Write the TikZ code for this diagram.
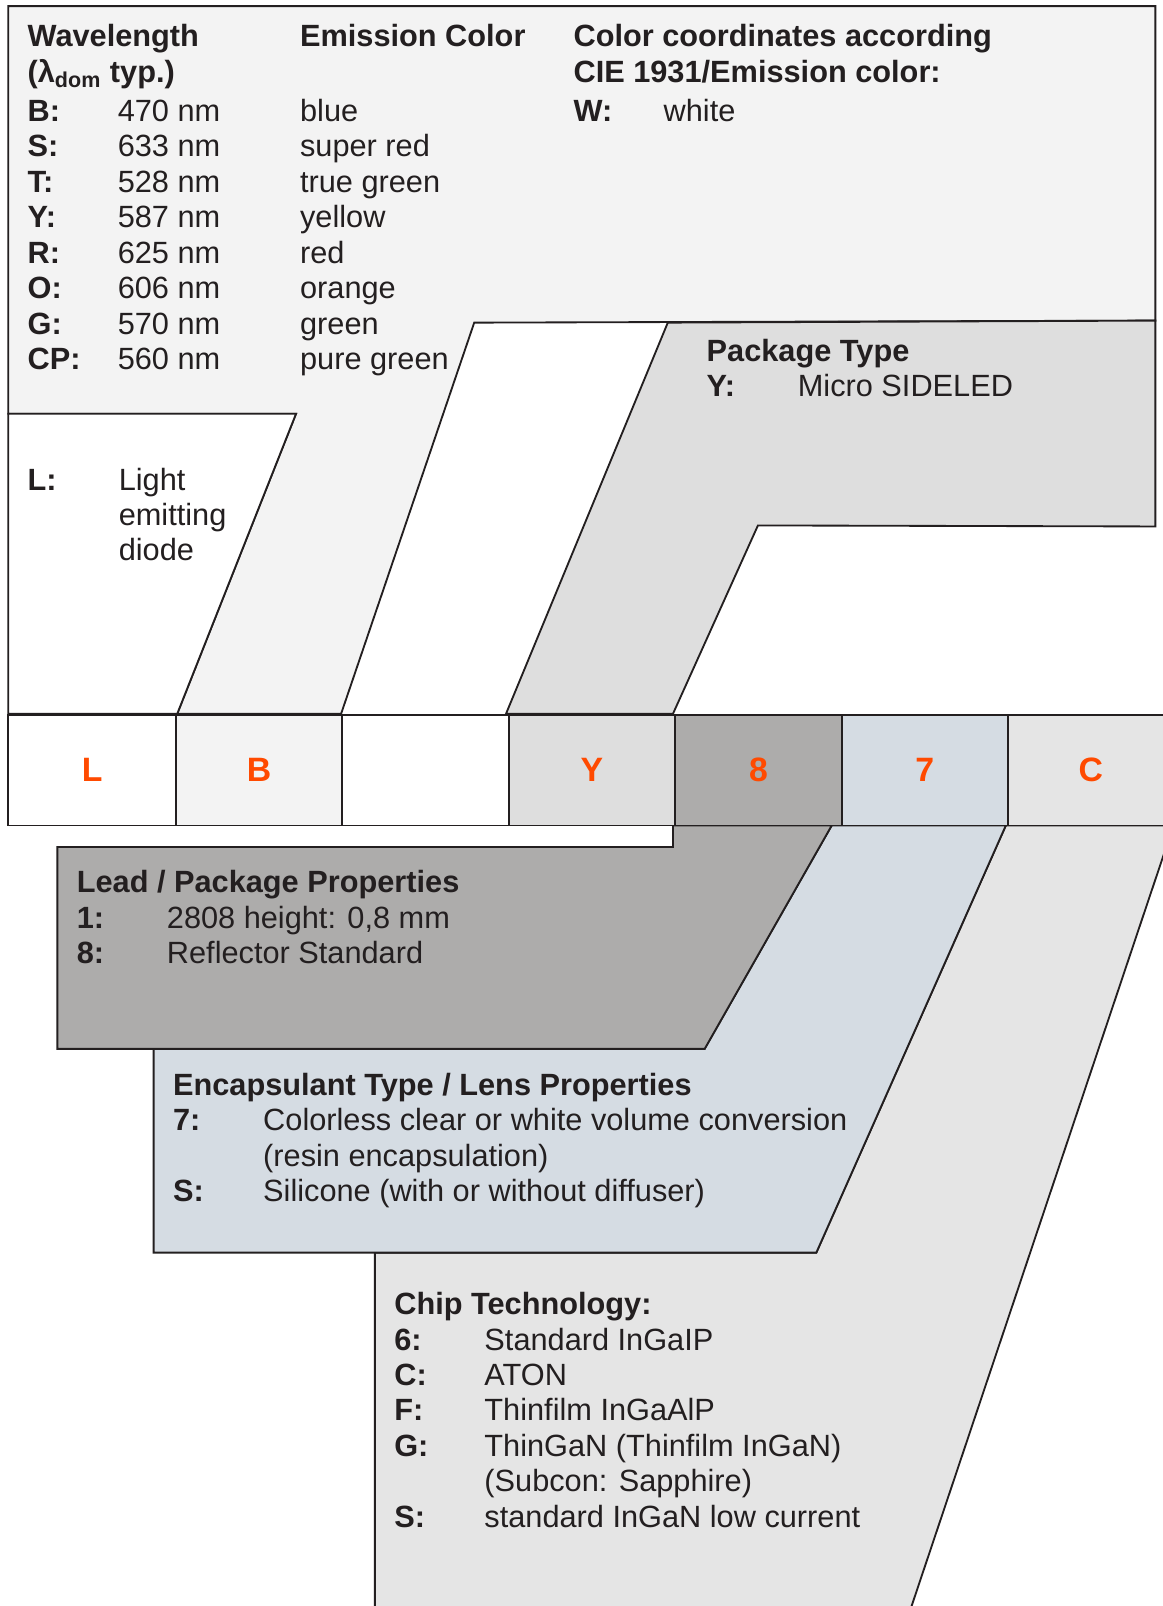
\documentclass[tikz,border=0pt]{standalone}
\usepackage{fontspec}
\setmainfont{Liberation Sans}
\definecolor{linec}{HTML}{231F20}
\definecolor{textc}{HTML}{231F20}
\definecolor{codec}{HTML}{FF4A00}
\definecolor{topc}{HTML}{F3F3F3}
\definecolor{pkgc}{HTML}{DEDEDE}
\definecolor{leadc}{HTML}{ADACAB}
\definecolor{encc}{HTML}{D5DCE3}
\definecolor{chipc}{HTML}{E5E5E5}
\begin{document}
\begin{tikzpicture}[x=0.5pt,y=-0.5pt,
  region/.style={draw=linec,line width=0.9pt,line join=miter},
  txt/.style={anchor=base west,inner sep=0pt,outer sep=0pt,yshift=-0.75pt,text=textc,font=\fontsize{15}{17}\selectfont},
  hd/.style={txt,font=\fontsize{15}{17}\selectfont\bfseries},
  cell/.style={draw=linec,line width=0.9pt,minimum height=54pt,inner sep=0pt,text=codec,font=\fontsize{16.5}{18}\selectfont\bfseries}]
\useasboundingbox (0,0) rectangle (1135,1568);
\fill[white] (0,0) rectangle (1135,1568);

% upper regions
\draw[region,fill=topc] (8,6) -- (1128,6) -- (1128,313) -- (463,315) -- (333,697) -- (173,697) -- (289,404) -- (8,404) -- cycle;
\draw[region,fill=white] (8,404) -- (289,404) -- (173,697) -- (8,697) -- cycle;
\draw[region,fill=pkgc] (652,315) -- (1128,313) -- (1128,514) -- (740,513) -- (657,697) -- (494,697) -- cycle;

% lower regions
\draw[region,fill=chipc] (366,1580) -- (366,1223) -- (797,1223) -- (982,806) -- (1140,806) -- (1140,823) -- (886,1580) -- cycle;
\draw[region,fill=encc] (150,1024) -- (688,1024) -- (812,806) -- (982,806) -- (797,1223) -- (150,1223) -- cycle;
\draw[region,fill=leadc] (56,827) -- (657,827) -- (657,806) -- (812,806) -- (688,1024) -- (56,1024) -- cycle;

% code row
\node[cell,fill=white,minimum width=82pt] (boxL) at (90,752) {L};
\node[cell,fill=topc,minimum width=81pt] (boxB) at (253,752) {B};
\node[cell,fill=white,minimum width=81.5pt] (boxW) at (415.5,752) {};
\node[cell,fill=pkgc,minimum width=81pt] (boxY) at (578,752) {Y};
\node[cell,fill=leadc,minimum width=81.5pt] (box8) at (740.5,752) {8};
\node[cell,fill=encc,minimum width=81pt] (box7) at (903,752) {7};
\node[cell,fill=chipc,minimum width=84pt] (boxC) at (1068,752) {};
\node[text=codec,font=\fontsize{16.5}{18}\selectfont\bfseries,inner sep=0pt] (boxCl) at (1065,752) {C};

% wavelength block
\node[hd] (wlh1) at (27,44) {Wavelength};
\node[hd] (wlh2) at (27,79) {(λ\textsubscript{dom} typ.)};
\node[hd] (emh) at (293,44) {Emission Color};
\node[hd] (cch1) at (560,44) {Color coordinates according};
\node[hd] (cch2) at (560,79) {CIE 1931/Emission color:};
\node[hd] (cck) at (560,117) {W:};
\node[txt] (ccv) at (648,117) {white};
\foreach \k/\v/\c [count=\i from 0] in {B/470 nm/blue, S/633 nm/super red, T/528 nm/true green, Y/587 nm/yellow, R/625 nm/red, O/606 nm/orange, G/570 nm/green, CP/560 nm/pure green}{
  \node[hd] (wk\i) at (27,{117+34.6*\i}) {\k:};
  \node[txt] (wv\i) at (115,{117+34.6*\i}) {\v};
  \node[txt] (wc\i) at (293,{117+34.6*\i}) {\c};
}

% L block
\node[hd] (lk) at (27,477) {L:};
\node[txt] (lv1) at (116,477) {Light};
\node[txt] (lv2) at (116,511.6) {emitting};
\node[txt] (lv3) at (116,546.2) {diode};

% package type
\node[hd] (pkh) at (690,351) {Package Type};
\node[hd] (pkk) at (690,386) {Y:};
\node[txt] (pkv) at (779,386) {Micro SIDELED};

% lead
\node[hd] (ldh) at (75,870) {Lead / Package Properties};
\node[hd] (ldk1) at (75,904.6) {1:};
\node[txt] (ldv1) at (163,904.6) {2808 height: 0,8 mm};
\node[hd] (ldk2) at (75,939.2) {8:};
\node[txt] (ldv2) at (163,939.2) {Reflector Standard};

% encapsulant
\node[hd] (enh) at (169,1068) {Encapsulant Type / Lens Properties};
\node[hd] (enk1) at (169,1102.6) {7:};
\node[txt] (env1) at (257,1102.6) {Colorless clear or white volume conversion};
\node[txt] (env2) at (257,1137.2) {(resin encapsulation)};
\node[hd] (enk2) at (169,1171.8) {S:};
\node[txt] (env3) at (257,1171.8) {Silicone (with or without diffuser)};

% chip
\node[hd] (chh) at (385,1282) {Chip Technology:};
\foreach \k/\v/\j in {6/Standard InGaIP/1, C/ATON/2, F/Thinfilm InGaAlP/3, G/ThinGaN (Thinfilm InGaN)/4, S/standard InGaN low current/6}{
  \node[hd] (chk\j) at (385,{1282+34.6*\j}) {\k:};
  \node[txt] (chv\j) at (473,{1282+34.6*\j}) {\v};
}
\node[txt] (chv5) at (473,{1282+34.6*5}) {(Subcon: Sapphire)};
\end{tikzpicture}
\end{document}
